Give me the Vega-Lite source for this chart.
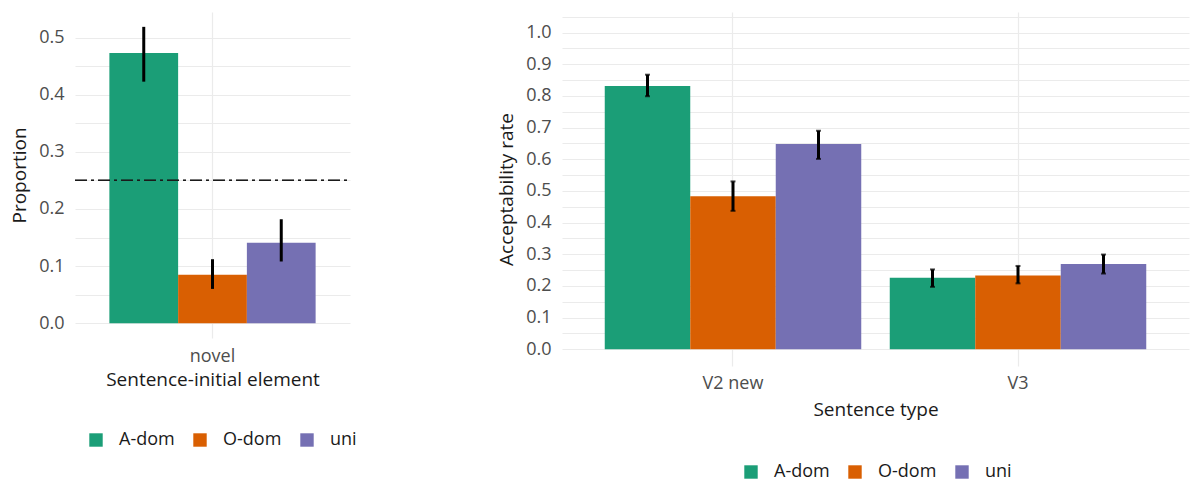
{
  "$schema": "https://vega.github.io/schema/vega-lite/v6.json",
  "padding": {"left": 10, "top": 7, "right": 2, "bottom": 0},
  "config": {
    "font": "Open Sans",
    "view": {"stroke": null},
    "axis": {
      "labelFont": "Open Sans",
      "titleFont": "Open Sans",
      "labelColor": "#4d4d4d",
      "titleColor": "#1a1a1a",
      "labelFontSize": 18,
      "titleFontSize": 19,
      "titleFontWeight": "normal",
      "gridColor": "#ebebeb",
      "gridWidth": 1.2,
      "domain": false,
      "ticks": false,
      "labelOverlap": false
    },
    "legend": {
      "labelFont": "Open Sans",
      "labelFontSize": 18,
      "labelColor": "#1a1a1a",
      "symbolType": "square",
      "symbolSize": 180,
      "symbolStrokeWidth": 0,
      "labelOffset": 14,
      "columnPadding": 16,
      "direction": "horizontal",
      "title": null
    }
  },
  "datasets": {
    "left": [
      {"elem": "novel", "group": "A-dom", "value": 0.473, "lo": 0.423, "hi": 0.519},
      {"elem": "novel", "group": "O-dom", "value": 0.085, "lo": 0.060, "hi": 0.112},
      {"elem": "novel", "group": "uni", "value": 0.141, "lo": 0.108, "hi": 0.182}
    ],
    "right": [
      {"type": "V2 new", "group": "A-dom", "value": 0.831, "lo": 0.799, "hi": 0.867},
      {"type": "V2 new", "group": "O-dom", "value": 0.483, "lo": 0.437, "hi": 0.530},
      {"type": "V2 new", "group": "uni", "value": 0.648, "lo": 0.601, "hi": 0.690},
      {"type": "V3", "group": "A-dom", "value": 0.226, "lo": 0.197, "hi": 0.252},
      {"type": "V3", "group": "O-dom", "value": 0.233, "lo": 0.208, "hi": 0.263},
      {"type": "V3", "group": "uni", "value": 0.269, "lo": 0.239, "hi": 0.299}
    ]
  },
  "spacing": 140,
  "resolve": {"scale": {"color": "independent", "xOffset": "independent", "x": "independent", "y": "independent"}},
  "hconcat": [
    {
      "width": 275,
      "height": 326,
      "data": {"name": "left"},
      "encoding": {
        "x": {
          "field": "elem", "type": "nominal",
          "scale": {"paddingInner": 0.1, "paddingOuter": 0.15},
          "axis": {"title": "Sentence-initial element", "labelAngle": 0, "grid": true, "bandPosition": 0.5, "labelPadding": 9, "titlePadding": 5}
        },
        "xOffset": {"field": "group", "type": "nominal", "scale": {"paddingInner": 0, "paddingOuter": 0}}
      },
      "layer": [
        {
          "mark": {"type": "bar", "opacity": 1},
          "encoding": {
            "y": {
              "field": "value", "type": "quantitative",
              "scale": {"domain": [-0.026, 0.545], "nice": false, "zero": false},
              "axis": {
                "title": "Proportion",
                "values": [0, 0.05, 0.1, 0.15, 0.2, 0.25, 0.3, 0.35, 0.4, 0.45, 0.5],
                "labelExpr": "round(datum.value*20) % 2 == 0 ? format(datum.value, '.1f') : ''",
                "labelPadding": 11,
                "titlePadding": 9
              }
            },
            "y2": {"datum": 0},
            "color": {
              "field": "group", "type": "nominal",
              "scale": {"domain": ["A-dom", "O-dom", "uni"], "range": ["#1b9e77", "#d95f02", "#7570b3"]},
              "legend": {"orient": "none", "legendX": 12, "legendY": 419}
            }
          }
        },
        {
          "mark": {"type": "rule", "strokeWidth": 3, "color": "#000000"},
          "encoding": {
            "y": {
              "field": "lo", "type": "quantitative",
              "axis": {
                "title": "Proportion",
                "values": [0, 0.05, 0.1, 0.15, 0.2, 0.25, 0.3, 0.35, 0.4, 0.45, 0.5],
                "labelExpr": "round(datum.value*20) % 2 == 0 ? format(datum.value, '.1f') : ''",
                "labelPadding": 11,
                "titlePadding": 9
              }
            },
            "y2": {"field": "hi"}
          }
        },
        {
          "mark": {"type": "rule", "strokeWidth": 1.2, "color": "#1a1a1a", "strokeDash": [12, 4, 3, 4]},
          "encoding": {
            "y": {
              "datum": 0.25, "type": "quantitative",
              "axis": {
                "title": "Proportion",
                "values": [0, 0.05, 0.1, 0.15, 0.2, 0.25, 0.3, 0.35, 0.4, 0.45, 0.5],
                "labelExpr": "round(datum.value*20) % 2 == 0 ? format(datum.value, '.1f') : ''",
                "labelPadding": 11,
                "titlePadding": 9
              }
            },
            "x": {"value": 0},
            "x2": {"value": 275},
            "xOffset": null
          }
        }
      ]
    },
    {
      "width": 627,
      "height": 354,
      "data": {"name": "right"},
      "encoding": {
        "x": {
          "field": "type", "type": "nominal",
          "scale": {"paddingInner": 0.1, "paddingOuter": 0.15},
          "axis": {"title": "Sentence type", "labelAngle": 0, "grid": true, "bandPosition": 0.5, "labelPadding": 8, "titlePadding": 8}
        },
        "xOffset": {"field": "group", "type": "nominal", "scale": {"paddingInner": 0, "paddingOuter": 0}}
      },
      "layer": [
        {
          "mark": {"type": "bar"},
          "encoding": {
            "y": {
              "field": "value", "type": "quantitative",
              "scale": {"domain": [-0.053, 1.065], "nice": false, "zero": false},
              "axis": {
                "title": "Acceptability rate",
                "values": [0, 0.05, 0.1, 0.15, 0.2, 0.25, 0.3, 0.35, 0.4, 0.45, 0.5, 0.55, 0.6, 0.65, 0.7, 0.75, 0.8, 0.85, 0.9, 0.95, 1.0, 1.05],
                "labelExpr": "round(datum.value*20) % 2 == 0 ? format(datum.value, '.1f') : ''",
                "labelPadding": 11,
                "titlePadding": 9
              }
            },
            "y2": {"datum": 0},
            "color": {
              "field": "group", "type": "nominal",
              "scale": {"domain": ["A-dom", "O-dom", "uni"], "range": ["#1b9e77", "#d95f02", "#7570b3"]},
              "legend": {"orient": "none", "legendX": 180, "legendY": 451}
            }
          }
        },
        {
          "mark": {"type": "rule", "strokeWidth": 3, "color": "#000000"},
          "encoding": {
            "y": {
              "field": "lo", "type": "quantitative",
              "axis": {
                "title": "Acceptability rate",
                "values": [0, 0.05, 0.1, 0.15, 0.2, 0.25, 0.3, 0.35, 0.4, 0.45, 0.5, 0.55, 0.6, 0.65, 0.7, 0.75, 0.8, 0.85, 0.9, 0.95, 1.0, 1.05],
                "labelExpr": "round(datum.value*20) % 2 == 0 ? format(datum.value, '.1f') : ''",
                "labelPadding": 11,
                "titlePadding": 9
              }
            },
            "y2": {"field": "hi"}
          }
        },
        {
          "mark": {"type": "tick", "thickness": 2, "size": 5, "color": "#000000"},
          "encoding": {
            "y": {
              "field": "lo", "type": "quantitative",
              "axis": {
                "title": "Acceptability rate",
                "values": [0, 0.05, 0.1, 0.15, 0.2, 0.25, 0.3, 0.35, 0.4, 0.45, 0.5, 0.55, 0.6, 0.65, 0.7, 0.75, 0.8, 0.85, 0.9, 0.95, 1.0, 1.05],
                "labelExpr": "round(datum.value*20) % 2 == 0 ? format(datum.value, '.1f') : ''",
                "labelPadding": 11,
                "titlePadding": 9
              }
            }
          }
        },
        {
          "mark": {"type": "tick", "thickness": 2, "size": 5, "color": "#000000"},
          "encoding": {
            "y": {
              "field": "hi", "type": "quantitative",
              "axis": {
                "title": "Acceptability rate",
                "values": [0, 0.05, 0.1, 0.15, 0.2, 0.25, 0.3, 0.35, 0.4, 0.45, 0.5, 0.55, 0.6, 0.65, 0.7, 0.75, 0.8, 0.85, 0.9, 0.95, 1.0, 1.05],
                "labelExpr": "round(datum.value*20) % 2 == 0 ? format(datum.value, '.1f') : ''",
                "labelPadding": 11,
                "titlePadding": 9
              }
            }
          }
        }
      ]
    }
  ]
}
